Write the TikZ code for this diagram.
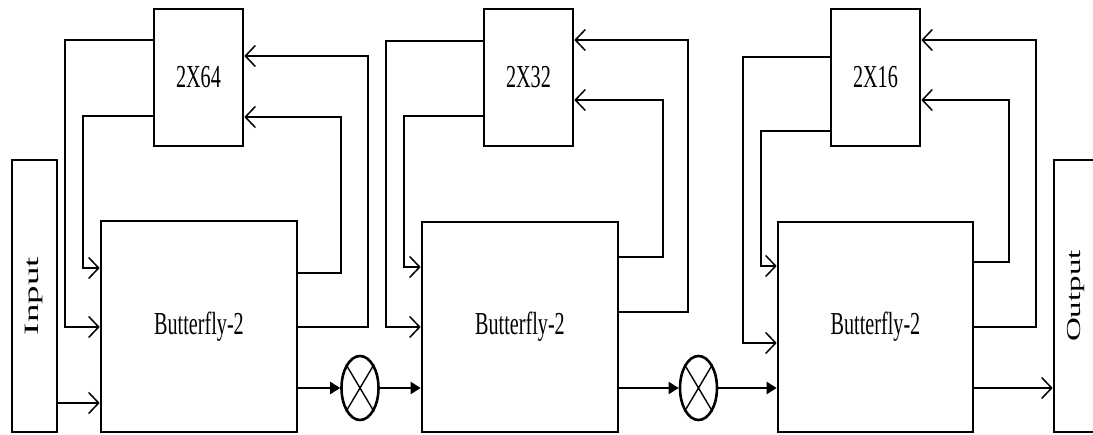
\documentclass[tikz,border=0pt]{standalone}
\usepackage{fontspec}
\setmainfont{Liberation Serif}
\usepackage{graphicx}
\usetikzlibrary{arrows.meta,shapes.geometric}
\begin{document}
\begin{tikzpicture}[x=1pt,y=-1pt,
  blk/.style={draw, line width=2.6pt, inner sep=0pt, fill=white},
  fb/.style={line width=1.5pt, -{Straight Barb[length=10pt,width=21pt,line width=1.5pt]}},
  mainline/.style={line width=2pt, -{Triangle[length=10pt,width=12pt]}},
  mult/.style={draw, ellipse, line width=2.6pt, minimum width=37pt, minimum height=64pt, inner sep=0pt},
  lbl/.style={font=\fontsize{32}{36}\selectfont},
  crossline/.style={line width=1.4pt}
]
\useasboundingbox (0,0) rectangle (1093,435);
\clip (0,0) rectangle (1093,435);

% side boxes
\node[blk, minimum width=45pt, minimum height=272pt] (in) at (34.5,296)
  {\fontsize{37}{40}\selectfont\scalebox{0.55}[1]{\rotatebox{90}{Input}}};
\node[blk, minimum width=45pt, minimum height=272pt] (out) at (1076.5,296)
  {\fontsize{33}{36}\selectfont\scalebox{0.6}[1]{\rotatebox{90}{Output}}};

% butterflies
\node[blk, lbl, minimum width=196pt, minimum height=211pt] (b1) at (199,326.5) {\scalebox{0.63}[1]{Butterfly-2}};
\node[blk, lbl, minimum width=196pt, minimum height=210pt] (b2) at (520,327) {\scalebox{0.63}[1]{Butterfly-2}};
\node[blk, lbl, minimum width=195pt, minimum height=210pt] (b3) at (875.5,327) {\scalebox{0.63}[1]{Butterfly-2}};

% memories
\node[blk, lbl, minimum width=89pt, minimum height=137pt] (m1) at (198.5,77.5) {\scalebox{0.63}[1]{2X64}};
\node[blk, lbl, minimum width=89pt, minimum height=137pt] (m2) at (528.5,77.5) {\scalebox{0.63}[1]{2X32}};
\node[blk, lbl, minimum width=89pt, minimum height=137pt] (m3) at (875.5,77.5) {\scalebox{0.63}[1]{2X16}};

% multipliers
\node[mult] (e1) at (360,388) {};
\node[mult] (e2) at (698.5,388) {};
\draw[crossline] (e1.north west) -- (e1.south east) (e1.north east) -- (e1.south west);
\draw[crossline] (e2.north west) -- (e2.south east) (e2.north east) -- (e2.south west);

% stage 1
\draw[fb] (m1.west |- 0,40) -- (65,40) -- (65,327) -- (b1.west |- 0,327);
\draw[fb] (m1.west |- 0,116) -- (83,116) -- (83,268) -- (b1.west |- 0,268);
\draw[fb] (b1.east |- 0,273) -- (341,273) -- (341,117) -- (m1.east |- 0,117);
\draw[fb] (b1.east |- 0,327) -- (368,327) -- (368,56) -- (m1.east |- 0,56);
\draw[fb] (in.east |- 0,403) -- (b1.west |- 0,403);
\draw[mainline] (b1.east |- 0,388) -- (e1.west);
\draw[mainline] (e1.east) -- (b2.west |- 0,388);

% stage 2
\draw[fb] (m2.west |- 0,41) -- (386,41) -- (386,327) -- (b2.west |- 0,327);
\draw[fb] (m2.west |- 0,116) -- (404,116) -- (404,267) -- (b2.west |- 0,267);
\draw[fb] (b2.east |- 0,257) -- (663,257) -- (663,100) -- (m2.east |- 0,100);
\draw[fb] (b2.east |- 0,312) -- (688,312) -- (688,40) -- (m2.east |- 0,40);
\draw[mainline] (b2.east |- 0,388) -- (e2.west);
\draw[mainline] (e2.east) -- (b3.west |- 0,388);

% stage 3
\draw[fb] (m3.west |- 0,57) -- (743,57) -- (743,343) -- (b3.west |- 0,343);
\draw[fb] (m3.west |- 0,131) -- (761,131) -- (761,266) -- (b3.west |- 0,266);
\draw[fb] (b3.east |- 0,262) -- (1009,262) -- (1009,100) -- (m3.east |- 0,100);
\draw[fb] (b3.east |- 0,327) -- (1036,327) -- (1036,40) -- (m3.east |- 0,40);
\draw[fb] (b3.east |- 0,388) -- (out.west |- 0,388);
\end{tikzpicture}
\end{document}
